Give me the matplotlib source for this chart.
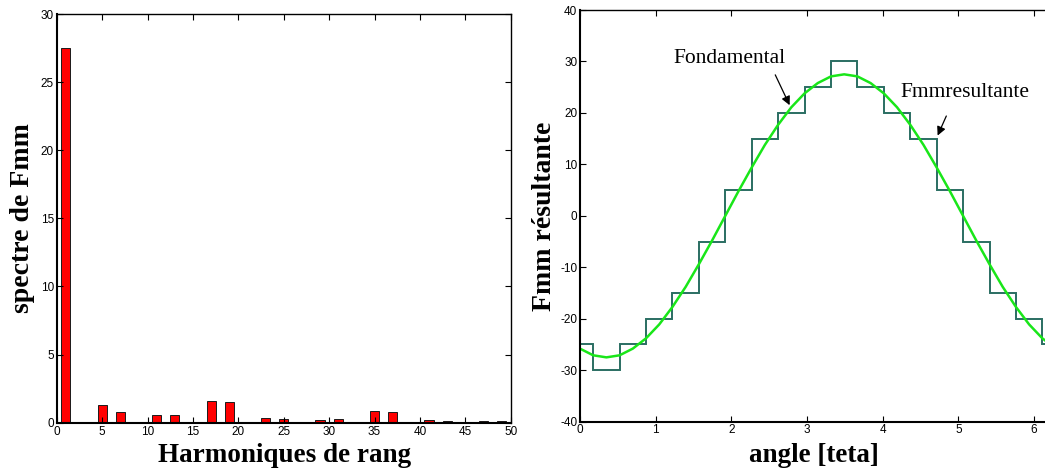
import numpy as np
import matplotlib
matplotlib.use("Agg")
import matplotlib.pyplot as plt

plt.rcParams["axes.unicode_minus"] = False

# ---- data: spectrum ----
harmonics = [1, 5, 7, 11, 13, 17, 19, 23, 25, 29, 31, 35, 37, 41, 43, 47, 49]
amplitudes = [27.5, 1.3, 0.76, 0.54, 0.54, 1.62, 1.49, 0.32, 0.24, 0.17, 0.24,
              0.86, 0.76, 0.17, 0.12, 0.12, 0.13]
left_xticks = [0, 5, 10, 15, 20, 25, 30, 35, 40, 45, 50]
left_yticks = [0, 5, 10, 15, 20, 25, 30]

# ---- data: resulting mmf (stairs) ----
step_edges_deg = [0, 10, 30, 50, 70, 90, 110, 130, 150, 170, 190, 210, 230, 250,
                  270, 290, 310, 330, 350, 360]
step_values = [-25, -30, -25, -20, -15, -5, 5, 15, 20, 25, 30, 25, 20, 15, 5,
               -5, -15, -20, -25]

# ---- data: fundamental read every 10 degrees ----
fund_deg = [0, 10, 20, 30, 40, 50, 60, 70, 80, 90, 100, 110, 120, 130, 140, 150,
            160, 170, 180, 190, 200, 210, 220, 230, 240, 250, 260, 270, 280, 290,
            300, 310, 320, 330, 340, 350, 360]
fund_values = [-25.8, -27.1, -27.5, -27.1, -25.8, -23.8, -21.1, -17.7, -13.8, -9.4,
               -4.8, 0.0, 4.8, 9.4, 13.8, 17.7, 21.1, 23.8, 25.8, 27.1, 27.5, 27.1,
               25.8, 23.8, 21.1, 17.7, 13.8, 9.4, 4.8, 0.0, -4.8, -9.4, -13.8,
               -17.7, -21.1, -23.8, -25.8]
right_xticks = [0, 1, 2, 3, 4, 5, 6]
right_yticks = [-40, -30, -20, -10, 0, 10, 20, 30, 40]

xlabel_font = dict(family="Liberation Serif", fontweight="bold", fontsize=19.5)
ylabel_font = dict(family="Liberation Serif", fontweight="bold", fontsize=20)
annot_font = dict(family="Liberation Serif", fontsize=15.5)
tick_font = "Liberation Sans"

fig = plt.figure(figsize=(10.45, 4.72), dpi=100)
fig.patch.set_facecolor("white")


def style_axes(ax):
    ax.tick_params(direction="in", length=4, width=0.8, top=True, right=True,
                   labelsize=8.5, pad=2, colors="black")
    for lab in ax.get_xticklabels() + ax.get_yticklabels():
        lab.set_family(tick_font)
    for side in ("left", "bottom"):
        ax.spines[side].set_linewidth(1.5)
    for side in ("top", "right"):
        ax.spines[side].set_linewidth(1.0)


def place_xlabel(ax, x_frac):
    ax.xaxis.set_label_coords(x_frac, 0.0206, transform=fig.transFigure)
    ax.xaxis.label.set_va("baseline")
    ax.xaxis.label.set_ha("center")


# ---------- left: spectrum ----------
ax1 = fig.add_axes([0.0543, 0.1044, 0.4344, 0.8659])
ax1.bar(harmonics, amplitudes, width=1.0, color="#ff0000", edgecolor="#1a1a1a",
        linewidth=0.7)
ax1.set_xlim(0, 50)
ax1.set_ylim(0, 30)
ax1.set_xticks(left_xticks)
ax1.set_yticks(left_yticks)
style_axes(ax1)
ax1.set_xlabel("Harmoniques de rang", **xlabel_font)
place_xlabel(ax1, 0.2722)
ax1.set_ylabel("spectre de Fmm", labelpad=4, **ylabel_font)

# ---------- right: waveform ----------
ax2 = fig.add_axes([0.555, 0.1066, 0.4551, 0.8722])
ax2.stairs(step_values, np.deg2rad(step_edges_deg), color="#2a6e62", linewidth=1.4,
           baseline=None)
ax2.plot(np.deg2rad(fund_deg), fund_values, color="#19e619", linewidth=1.8)
ax2.set_xlim(0, 2 * np.pi)
ax2.set_ylim(-40, 40)
ax2.set_xticks(right_xticks)
ax2.set_yticks(right_yticks)
style_axes(ax2)
ax2.set_xlabel("angle [teta]", **xlabel_font)
place_xlabel(ax2, 0.7785)
ax2.set_ylabel("Fmm résultante", labelpad=2, **ylabel_font)

arrow = dict(arrowstyle="-|>", color="black", lw=0.9, mutation_scale=13,
             shrinkA=0, shrinkB=0)
ax2.text(1.97, 30.5, "Fondamental", ha="center", va="center", **annot_font)
ax2.annotate("", xy=(2.77, 21.5), xytext=(2.58, 27.4), arrowprops=arrow)
ax2.text(5.09, 24.0, "Fmmresultante", ha="center", va="center", **annot_font)
ax2.annotate("", xy=(4.725, 15.6), xytext=(4.84, 19.4), arrowprops=arrow)

fig.savefig("out.png", dpi=100, facecolor="white")
